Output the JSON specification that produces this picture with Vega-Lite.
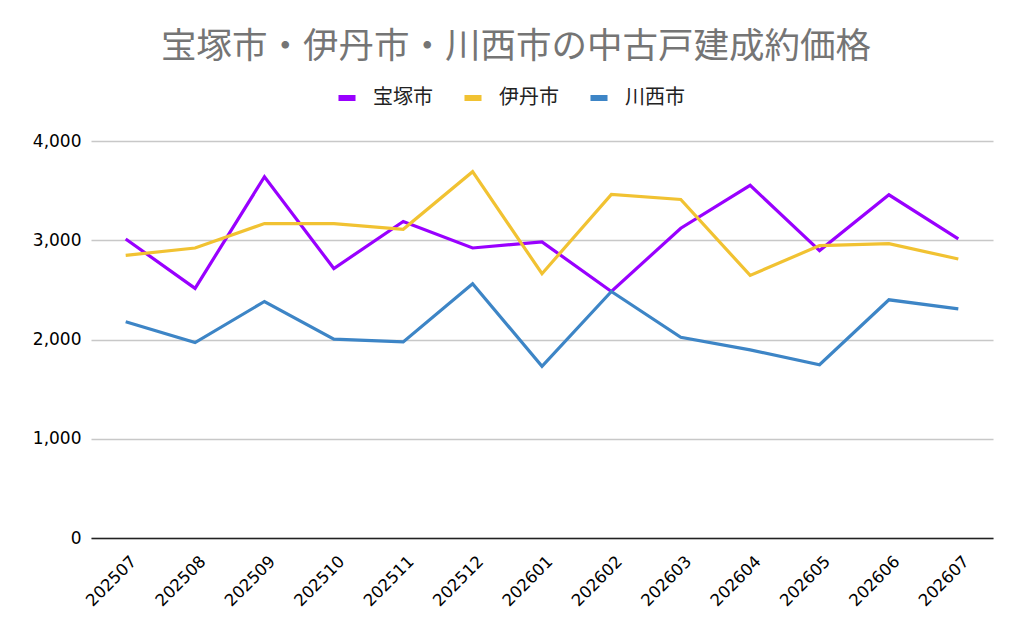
{
  "$schema": "https://vega.github.io/schema/vega-lite/v6.json",
  "width": 902,
  "height": 397,
  "autosize": {"type": "none"},
  "padding": {"left": 91, "top": 141, "right": 31, "bottom": 96},
  "background": "white",
  "title": {
    "text": "宝塚市・伊丹市・川西市の中古戸建成約価格",
    "font": "Noto Sans CJK JP",
    "fontSize": 35.5,
    "fontWeight": "normal",
    "color": "#757575",
    "anchor": "middle",
    "frame": "group",
    "dx": -26,
    "offset": 21
  },
  "data": {
    "values": [
      {"month": "202507", "city": "宝塚市", "price": 3013},
      {"month": "202508", "city": "宝塚市", "price": 2515},
      {"month": "202509", "city": "宝塚市", "price": 3640},
      {"month": "202510", "city": "宝塚市", "price": 2715},
      {"month": "202511", "city": "宝塚市", "price": 3189},
      {"month": "202512", "city": "宝塚市", "price": 2922},
      {"month": "202601", "city": "宝塚市", "price": 2983},
      {"month": "202602", "city": "宝塚市", "price": 2484},
      {"month": "202603", "city": "宝塚市", "price": 3121},
      {"month": "202604", "city": "宝塚市", "price": 3553},
      {"month": "202605", "city": "宝塚市", "price": 2896},
      {"month": "202606", "city": "宝塚市", "price": 3458},
      {"month": "202607", "city": "宝塚市", "price": 3013},
      {"month": "202507", "city": "伊丹市", "price": 2848},
      {"month": "202508", "city": "伊丹市", "price": 2922},
      {"month": "202509", "city": "伊丹市", "price": 3168},
      {"month": "202510", "city": "伊丹市", "price": 3168},
      {"month": "202511", "city": "伊丹市", "price": 3111},
      {"month": "202512", "city": "伊丹市", "price": 3691},
      {"month": "202601", "city": "伊丹市", "price": 2663},
      {"month": "202602", "city": "伊丹市", "price": 3462},
      {"month": "202603", "city": "伊丹市", "price": 3411},
      {"month": "202604", "city": "伊丹市", "price": 2646},
      {"month": "202605", "city": "伊丹市", "price": 2946},
      {"month": "202606", "city": "伊丹市", "price": 2966},
      {"month": "202607", "city": "伊丹市", "price": 2811},
      {"month": "202507", "city": "川西市", "price": 2178},
      {"month": "202508", "city": "川西市", "price": 1969},
      {"month": "202509", "city": "川西市", "price": 2383},
      {"month": "202510", "city": "川西市", "price": 2003},
      {"month": "202511", "city": "川西市", "price": 1976},
      {"month": "202512", "city": "川西市", "price": 2562},
      {"month": "202601", "city": "川西市", "price": 1730},
      {"month": "202602", "city": "川西市", "price": 2484},
      {"month": "202603", "city": "川西市", "price": 2023},
      {"month": "202604", "city": "川西市", "price": 1895},
      {"month": "202605", "city": "川西市", "price": 1746},
      {"month": "202606", "city": "川西市", "price": 2400},
      {"month": "202607", "city": "川西市", "price": 2309}
    ]
  },
  "mark": {"type": "line", "strokeWidth": 3.2, "strokeJoin": "miter"},
  "encoding": {
    "x": {
      "field": "month",
      "type": "ordinal",
      "title": null,
      "scale": {"type": "point", "padding": 0.5},
      "axis": {
        "labelAngle": -45,
        "labelFont": "DejaVu Sans",
        "labelFontSize": 16.5,
        "labelColor": "#000",
        "labelPadding": 15,
        "labelOffset": 2,
        "ticks": false,
        "domain": true,
        "domainColor": "#222",
        "domainWidth": 1.5,
        "grid": false
      }
    },
    "y": {
      "field": "price",
      "type": "quantitative",
      "title": null,
      "scale": {"domain": [0, 4000], "nice": false},
      "axis": {
        "values": [0, 1000, 2000, 3000, 4000],
        "labelExpr": "format(datum.value, ',.0f')",
        "labelFont": "DejaVu Sans",
        "labelFontSize": 17,
        "labelColor": "#000",
        "labelPadding": 10,
        "ticks": false,
        "domain": false,
        "gridColor": "#c8c8c8",
        "gridWidth": 1.3
      }
    },
    "color": {
      "field": "city",
      "type": "nominal",
      "title": null,
      "sort": ["宝塚市", "伊丹市", "川西市"],
      "scale": {
        "domain": ["宝塚市", "伊丹市", "川西市"],
        "range": ["#9900ff", "#f1c232", "#3d85c6"]
      },
      "legend": {
        "orient": "none",
        "direction": "horizontal",
        "legendX": 244,
        "legendY": -55,
        "symbolType": "stroke",
        "symbolStrokeWidth": 6,
        "symbolSize": 290,
        "labelFont": "Noto Sans CJK JP",
        "labelFontSize": 20,
        "labelColor": "#222",
        "labelOffset": 14,
        "columnPadding": 19
      }
    }
  },
  "config": {
    "view": {"stroke": null}
  }
}
